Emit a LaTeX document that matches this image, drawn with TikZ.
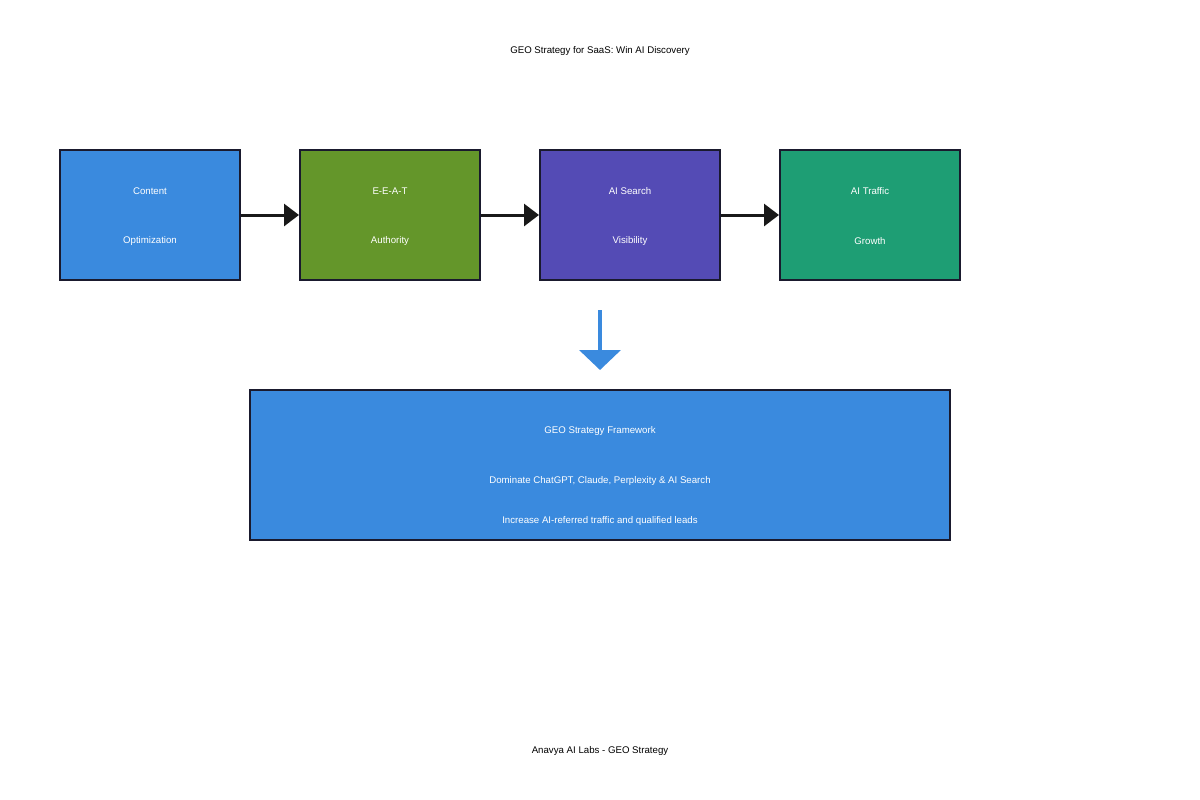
\documentclass[tikz,border=0pt]{standalone}
\usepackage{fontspec}
\setmainfont{Liberation Sans}
\usetikzlibrary{arrows.meta}
\definecolor{boxblue}{HTML}{3A8ADE}
\definecolor{boxgreen}{HTML}{64962A}
\definecolor{boxpurple}{HTML}{544BB5}
\definecolor{boxteal}{HTML}{1E9E74}
\definecolor{edge}{HTML}{1A1A2E}
\tikzset{
    stage/.style={draw=edge, line width=1.5pt, minimum width=135pt, minimum height=97.5pt, inner sep=0pt},
    flow/.style={draw=black!90, line width=2.25pt, -{Triangle[length=11.25pt, width=16.5pt]}},
    lbl/.style={text=white, font=\fontsize{7.25}{9}\selectfont, yshift=-1pt}
}
\begin{document}
\begin{tikzpicture}[x=0.75pt, y=-0.75pt]
            \useasboundingbox (0,0) rectangle (1200,800);

            % Title
            \node[font=\fontsize{7.25}{9}\selectfont, yshift=-1pt] (title) at (600,50) {GEO Strategy for SaaS: Win AI Discovery};

            % Stage boxes
            \node[stage, fill=boxblue] (content) at (150,215) {};
            \node[lbl] at (150,190) {Content};
            \node[lbl] at (150,240) {Optimization};

            \node[stage, fill=boxgreen] (eeat) at (390,215) {};
            \node[lbl] at (390,190) {E-E-A-T};
            \node[lbl] at (390,240) {Authority};

            \node[stage, fill=boxpurple] (search) at (630,215) {};
            \node[lbl] at (630,190) {AI Search};
            \node[lbl] at (630,240) {Visibility};

            \node[stage, fill=boxteal] (traffic) at (870,215) {};
            \node[lbl] at (870,190) {AI Traffic};
            \node[lbl] at (870,240) {Growth};

            % Flow arrows
            \draw[flow] (content.east) -- (eeat.west);
            \draw[flow] (eeat.east) -- (search.west);
            \draw[flow] (search.east) -- (traffic.west);

            % Down arrow
            \coordinate (dtop) at (600,310);
            \coordinate (dbot) at (600,370);
            \draw[boxblue, line width=3pt, -{Triangle[length=15pt, width=30.75pt]}] (dtop) -- (dbot);

            % Framework box
            \node[draw=edge, line width=1.5pt, fill=boxblue, minimum width=525pt, minimum height=112.5pt, inner sep=0pt] (frame) at (600,465) {};
            \node[lbl] at (600,430) {GEO Strategy Framework};
            \node[lbl] at (600,480) {Dominate ChatGPT, Claude, Perplexity \& AI Search};
            \node[lbl] at (600,520) {Increase AI-referred traffic and qualified leads};

            % Footer
            \node[font=\fontsize{7.25}{9}\selectfont, yshift=-1pt] (footer) at (600,750) {Anavya AI Labs - GEO Strategy};
        \end{tikzpicture}
\end{document}
